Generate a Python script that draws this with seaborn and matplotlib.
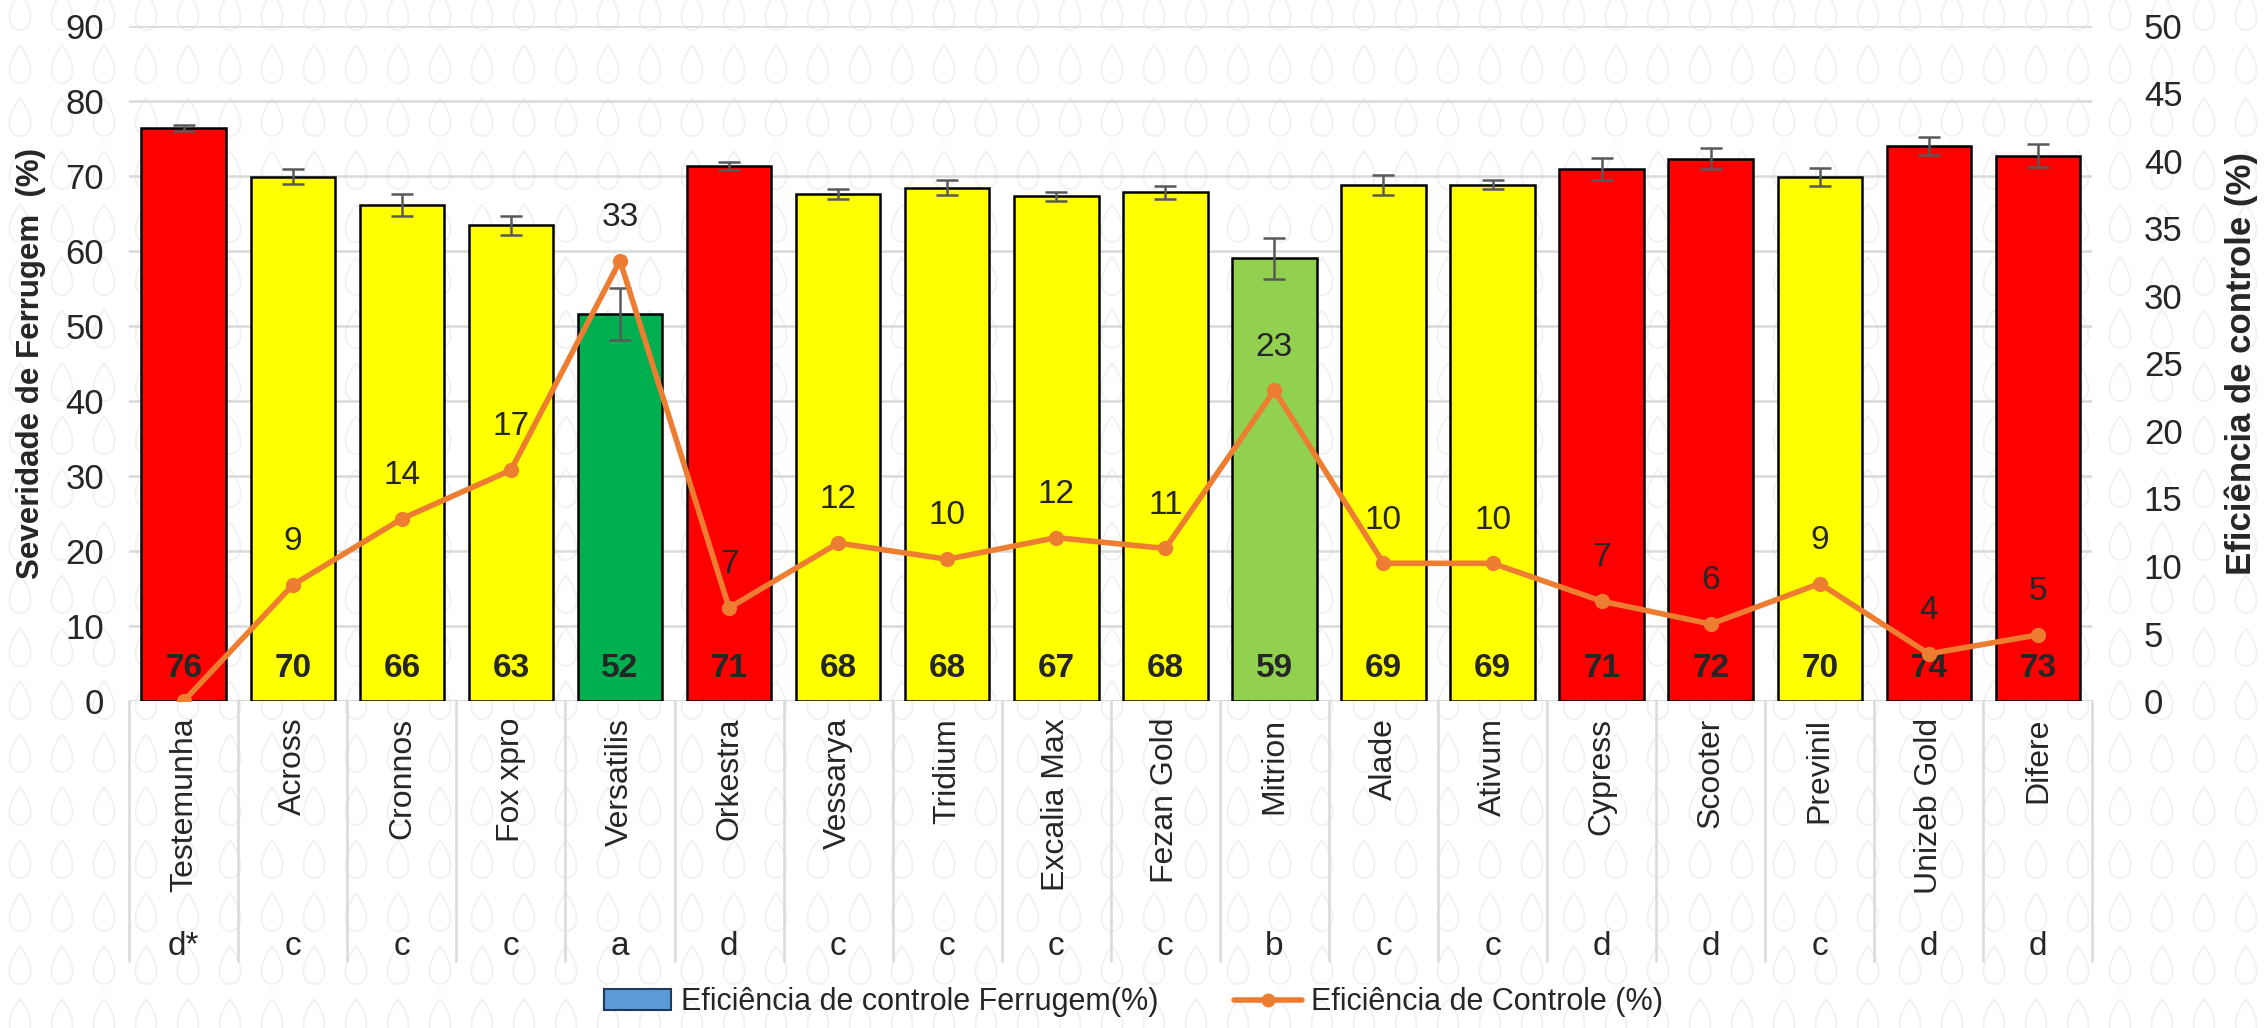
import numpy as np
import pandas as pd
import seaborn as sns
import matplotlib.pyplot as plt
from matplotlib.patches import Patch
from matplotlib.lines import Line2D
from matplotlib.path import Path

# data
tratamentos = ['Testemunha', 'Across', 'Cronnos', 'Fox xpro', 'Versatilis', 'Orkestra',
               'Vessarya', 'Tridium', 'Excalia Max', 'Fezan Gold', 'Mitrion', 'Alade',
               'Ativum', 'Cypress', 'Scooter', 'Previnil', 'Unizeb Gold', 'Difere']
severidade = [76.4, 69.9, 66.1, 63.4, 51.6, 71.3, 67.6, 68.4, 67.3, 67.8, 59.0, 68.8,
              68.8, 70.9, 72.3, 69.9, 74.0, 72.7]
erro = [0.4, 1.0, 1.5, 1.3, 3.5, 0.5, 0.7, 1.0, 0.6, 0.9, 2.7, 1.3,
        0.6, 1.5, 1.4, 1.2, 1.2, 1.5]
eficiencia = [0.0, 8.6, 13.5, 17.1, 32.6, 6.9, 11.7, 10.5, 12.1, 11.3, 23.0, 10.2,
              10.2, 7.4, 5.7, 8.7, 3.5, 4.9]
letras = ['d*', 'c', 'c', 'c', 'a', 'd', 'c', 'c', 'c', 'c', 'b', 'c',
          'c', 'd', 'd', 'c', 'd', 'd']
cores = ['#FF0000', '#FFFF00', '#FFFF00', '#FFFF00', '#00B050', '#FF0000',
         '#FFFF00', '#FFFF00', '#FFFF00', '#FFFF00', '#92D050', '#FFFF00',
         '#FFFF00', '#FF0000', '#FF0000', '#FFFF00', '#FF0000', '#FF0000']

df = pd.DataFrame({'Tratamento': tratamentos, 'Severidade': severidade,
                   'Erro': erro, 'Eficiencia': eficiencia})

sns.set_theme(style='white')
plt.rcParams['font.family'] = ['Liberation Sans', 'DejaVu Sans']

fig, ax = plt.subplots(figsize=(22.67, 10.28), dpi=100)
fig.subplots_adjust(left=0.057, right=0.923, bottom=0.318, top=0.975)

# faint drop watermark in the background
t = np.linspace(0, 2 * np.pi, 60)
gota = Path(np.column_stack([0.72 * np.sin(t) * np.sin(t / 2), np.cos(t)]))
bg = fig.add_axes([0, 0, 1, 1], zorder=-1)
bg.set_xlim(0, 2267)
bg.set_ylim(0, 1028)
bg.axis('off')
gx, gy = np.meshgrid(np.arange(20, 2267, 42), np.arange(10, 1028, 53))
bg.scatter(gx.ravel(), gy.ravel(), marker=gota, s=750, facecolors='none',
           edgecolors='#F1F1F1', linewidths=1.3)
ax.set_facecolor('none')

sns.barplot(data=df, x='Tratamento', y='Severidade', hue='Tratamento',
            palette=cores, saturation=1, legend=False, width=0.775,
            edgecolor='black', linewidth=1.8, errorbar=None, ax=ax, zorder=2)
x = np.arange(len(tratamentos))
ax.errorbar(x, severidade, yerr=erro, fmt='none', ecolor='#595959',
            elinewidth=1.8, capsize=8, capthick=1.8, zorder=3)

# bar values at the bottom of each bar
for i, v in enumerate(severidade):
    ax.text(i, 4.3, f'{v:.0f}', ha='center', va='center', fontsize=24,
            fontweight='bold', zorder=4)

ax.set_ylim(0, 90)
ax.set_xlim(-0.5, len(tratamentos) - 0.5)
ax.set_yticks(range(0, 91, 10))
ax.yaxis.grid(True, color='#D9D9D9', linewidth=1.8, zorder=0)
ax.set_axisbelow(True)
for s in ax.spines.values():
    s.set_visible(False)
ax.axhline(0, color='#D9D9D9', linewidth=1.8, zorder=1)
ax.tick_params(axis='y', length=0, pad=18, labelsize=25)
ax.set_ylabel('Severidade de Ferrugem  (%)', fontsize=22.5, fontweight='bold',
              labelpad=14)
ax.set_xlabel('')
ax.set_xticks(x)
ax.set_xticklabels(tratamentos, rotation=90, fontsize=23, va='top')
ax.tick_params(axis='x', length=0, pad=12)

# category separators and significance letters below the axis
trans = ax.get_xaxis_transform()
for i in range(len(tratamentos) + 1):
    ax.plot([i - 0.5, i - 0.5], [0, -0.385], transform=trans, color='#D9D9D9',
            linewidth=1.8, clip_on=False)
for i, l in enumerate(letras):
    ax.text(i, -0.364, l, transform=trans, ha='center', va='center', fontsize=24)

# efficiency line on the secondary axis
ax2 = ax.twinx()
sns.lineplot(x=x, y=eficiencia, ax=ax2, color='#ED7D31', linewidth=4,
             marker='o', markersize=11, markeredgewidth=0, sort=False, zorder=5)
for i, v in enumerate(eficiencia):
    if v > 0:
        ax2.annotate(f'{v:.0f}', (i, v), xytext=(0, 20), textcoords='offset points',
                     ha='center', va='bottom', fontsize=24)
ax2.set_ylim(0, 50)
ax2.set_yticks(range(0, 51, 5))
ax2.tick_params(axis='y', length=0, pad=37, labelsize=25)
ax2.set_ylabel('Eficiência de controle (%)', fontsize=25, fontweight='bold',
               labelpad=30)
for s in ax2.spines.values():
    s.set_visible(False)
ax2.grid(False)

handles = [Patch(facecolor='#5B9BD5', edgecolor='#1F3864', linewidth=1.5),
           Line2D([0], [0], color='#ED7D31', linewidth=4, marker='o', markersize=9)]
fig.legend(handles, ['Eficiência de controle Ferrugem(%)', 'Eficiência de Controle (%)'],
           loc='center', bbox_to_anchor=(0.5, 0.025), ncol=2, frameon=False,
           fontsize=22, handlelength=2.2, columnspacing=2.5, handletextpad=0.3)

plt.savefig('out.png', dpi=100)
